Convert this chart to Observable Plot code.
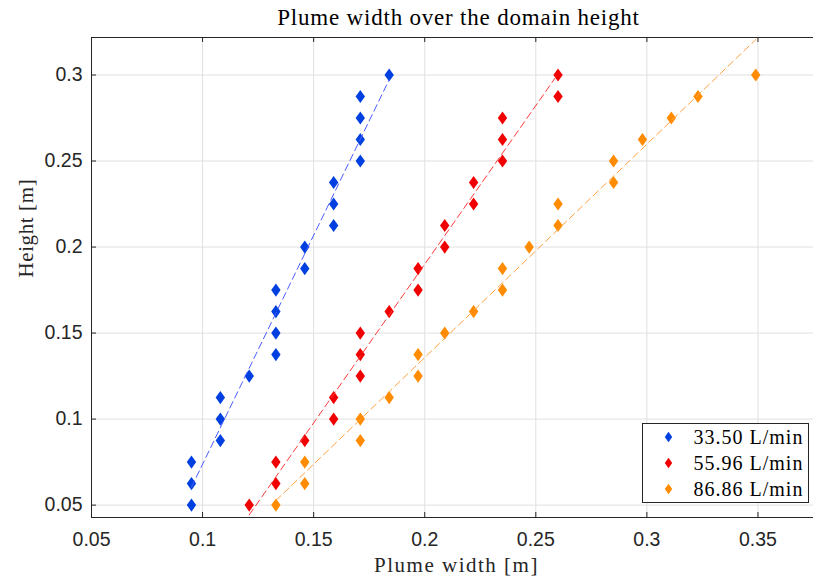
<!DOCTYPE html>
<html>
<head>
<meta charset="utf-8">
<script src="https://cdn.jsdelivr.net/npm/d3@7"></script>
<script src="https://cdn.jsdelivr.net/npm/@observablehq/plot@0.6"></script>
<style>
  html, body { margin: 0; padding: 0; background: #fff; }
  #chart { position: relative; width: 813px; height: 581px; }
</style>
</head>
<body>
<div id="chart"></div>
<script>
// ---------- data ----------
const heights = [0.05, 0.0625, 0.075, 0.0875, 0.1, 0.1125, 0.125, 0.1375, 0.15, 0.1625, 0.175,
                 0.1875, 0.2, 0.2125, 0.225, 0.2375, 0.25, 0.2625, 0.275, 0.2875, 0.3];
const widthBlue   = [0.095, 0.095, 0.095, 0.108, 0.108, 0.108, 0.121, 0.133, 0.133, 0.133, 0.133,
                     0.146, 0.146, 0.159, 0.159, 0.159, 0.171, 0.171, 0.171, 0.171, 0.184];
const widthRed    = [0.121, 0.133, 0.133, 0.146, 0.159, 0.159, 0.171, 0.171, 0.171, 0.184, 0.197,
                     0.197, 0.209, 0.209, 0.222, 0.222, 0.235, 0.235, 0.235, 0.260, 0.260];
const widthOrange = [0.133, 0.146, 0.146, 0.171, 0.171, 0.184, 0.197, 0.197, 0.209, 0.222, 0.235,
                     0.235, 0.247, 0.260, 0.260, 0.285, 0.285, 0.298, 0.311, 0.323, 0.349];
const seriesNames = ["33.50 L/min", "55.96 L/min", "86.86 L/min"];
const markerColors = ["#0040e0", "#f00000", "#ff8c00"];
const lineColors = ["#4a5cff", "#ff3a3a", "#ffa040"];

const xTicks = [0.05, 0.1, 0.15, 0.2, 0.25, 0.3, 0.35];
const xTickLabels = ["0.05", "0.1", "0.15", "0.2", "0.25", "0.3", "0.35"];
const yTicks = [0.05, 0.1, 0.15, 0.2, 0.25, 0.3];
const yTickLabels = ["0.05", "0.1", "0.15", "0.2", "0.25", "0.3"];
const xDomain = [0.05, 0.375];
const yDomain = [0.0428, 0.3218];

const titleText = "Plume width over the domain height";
const xLabel = "Plume width [m]";
const yLabel = "Height [m]";

// ---------- table ----------
const widths = [widthBlue, widthRed, widthOrange];
const data = [];
widths.forEach((ws, s) => ws.forEach((w, i) => data.push({width: w, height: heights[i], series: seriesNames[s]})));

// elongated diamond symbol
const tallDiamond = {
  draw(context, size) {
    const r = Math.sqrt(size / Math.PI);
    context.moveTo(0, -1.4 * r);
    context.lineTo(r, 0);
    context.lineTo(0, 1.4 * r);
    context.lineTo(-r, 0);
    context.closePath();
  }
};

const W = 813, H = 581;
const mL = 91, mR = 0, mT = 37, mB = 64;
const innerW = W - mL - mR, innerH = H - mT - mB;
const axisColor = "#262626";
const serif = "'Liberation Serif', 'Times New Roman', serif";

const marks = [
  Plot.gridX(xTicks, {stroke: "#e0e0e0", strokeOpacity: 1}),
  Plot.gridY(yTicks, {stroke: "#e0e0e0", strokeOpacity: 1}),
  Plot.axisX({ticks: xTicks, tickSize: 0, tickPadding: 15, tickFormat: (d, i) => xTickLabels[i], label: null, color: axisColor}),
  Plot.axisY({ticks: yTicks, tickSize: 0, tickPadding: 9, tickFormat: (d, i) => yTickLabels[i], label: null, color: axisColor})
];
seriesNames.forEach((name, s) => {
  const sub = data.filter(d => d.series === name);
  marks.push(Plot.dot(sub, {x: "width", y: "height", symbol: tallDiamond, r: 4.7, fill: markerColors[s], stroke: "none"}));
  marks.push(Plot.linearRegressionY(sub, {x: "width", y: "height", ci: 0, stroke: lineColors[s], strokeWidth: 1, strokeDasharray: "7,4", clip: true}));
});
marks.push(
  Plot.ruleY([yDomain[0], yDomain[1]], {stroke: axisColor, strokeWidth: 1}),
  Plot.ruleX([xDomain[0]], {stroke: axisColor, strokeWidth: 1}),
  Plot.tickX(xTicks, {x: d => d, insetTop: innerH - 5, stroke: axisColor}),
  Plot.tickX(xTicks, {x: d => d, insetBottom: innerH - 5, stroke: axisColor}),
  Plot.tickY(yTicks, {y: d => d, insetRight: innerW - 5, stroke: axisColor}),
  Plot.text([titleText], {frameAnchor: "top", lineAnchor: "middle", dy: -20, dx: 6, fontFamily: serif, fontSize: 23, fill: "#000"}),
  Plot.text([xLabel], {frameAnchor: "bottom", lineAnchor: "middle", dy: 48, dx: 4, fontFamily: serif, fontSize: 21, fill: axisColor}),
  Plot.text([yLabel], {frameAnchor: "left", lineAnchor: "middle", dx: -65, rotate: -90, fontFamily: serif, fontSize: 21, fill: axisColor})
);

const chart = Plot.plot({
  width: W, height: H,
  marginLeft: mL, marginRight: mR, marginTop: mT, marginBottom: mB,
  x: {domain: xDomain},
  y: {domain: yDomain},
  style: {fontFamily: "'Liberation Sans', Arial, sans-serif", fontSize: "19.5px", color: axisColor, background: "#fff", overflow: "visible"},
  marks
});
document.getElementById("chart").appendChild(chart);

// letter spacing tweaks for serif labels
const svg = d3.select(chart);
svg.selectAll("text").filter(function () { return this.textContent === titleText; }).attr("letter-spacing", 0.8);
svg.selectAll("text").filter(function () { return this.textContent === xLabel; }).attr("letter-spacing", 1.5);
svg.selectAll("text").filter(function () { return this.textContent === yLabel; }).attr("letter-spacing", 0.6);

// legend (inside plot, lower right)
const lg = svg.append("g").attr("aria-label", "legend");
const lx = 642.5, ly = 423.5, lw = 166, lh = 79;
lg.append("rect").attr("x", lx).attr("y", ly).attr("width", lw).attr("height", lh)
  .attr("fill", "#fff").attr("stroke", axisColor).attr("stroke-width", 1);
seriesNames.forEach((name, s) => {
  const cy = ly + 13.5 + s * 26;
  const cx = lx + 26;
  lg.append("path").attr("d", `M${cx},${cy - 5.2}L${cx + 3.7},${cy}L${cx},${cy + 5.2}L${cx - 3.7},${cy}Z`).attr("fill", markerColors[s]);
  lg.append("text").attr("x", lx + 51).attr("y", cy).attr("dy", "0.35em").attr("text-anchor", "start")
    .attr("font-family", serif).attr("font-size", 20).attr("letter-spacing", 1).attr("fill", "#000").text(name);
});
</script>
</body>
</html>
